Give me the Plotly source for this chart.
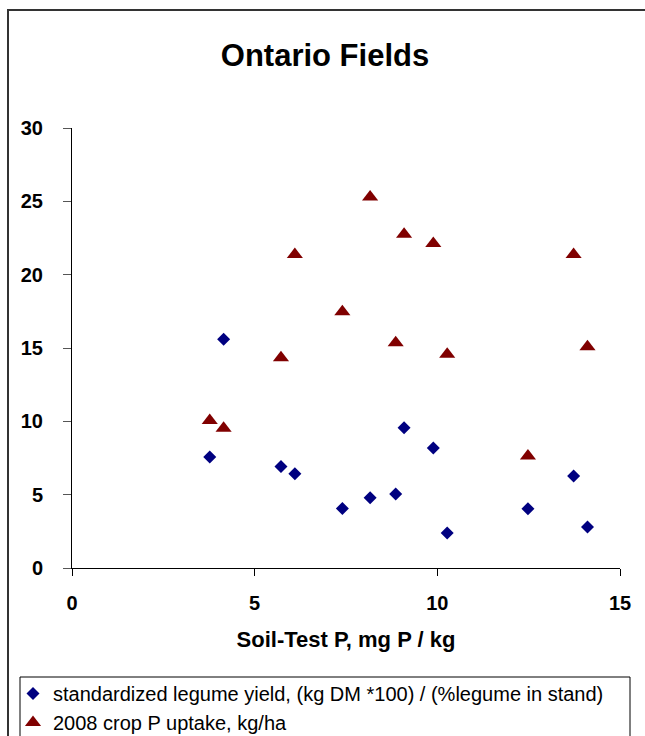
import plotly.graph_objects as go

soil_p = [3.77, 4.15, 5.72, 6.10, 7.40, 8.16, 8.86, 9.09, 9.89, 10.27, 12.48, 13.73, 14.11]
legume_yield = [7.56, 15.6, 6.92, 6.42, 4.06, 4.79, 5.04, 9.57, 8.19, 2.38, 4.04, 6.28, 2.79]
p_uptake = [10.05, 9.53, 14.34, 21.37, 17.47, 25.3, 15.36, 22.76, 22.12, 14.57, 7.64, 21.37, 15.09]

x_ticks = [0, 5, 10, 15]
y_ticks = [0, 5, 10, 15, 20, 25, 30]

W, H = 645, 736
ML, MR, MT, MB = 72, 25, 128, 168
PW = W - ML - MR
PH = H - MT - MB

def px(p):
    return (p - ML) / PW

def py(p):
    return (H - MB - p) / PH

FONT = "Arial, Liberation Sans, sans-serif"

fig = go.Figure()
fig.add_trace(go.Scatter(
    x=soil_p, y=legume_yield, mode="markers",
    name="standardized legume yield, (kg DM *100) / (%legume in stand)",
    marker=dict(symbol="diamond", size=10, color="#000080"),
    legendgroup="a",
))
fig.add_trace(go.Scatter(
    x=soil_p, y=p_uptake, mode="markers",
    name="2008 crop P uptake, kg/ha",
    marker=dict(symbol="triangle-up", size=14, color="#800000"),
    legendgroup="b",
))

# outer chart frame and legend box
fig.add_shape(type="rect", xref="paper", yref="paper",
              x0=px(8), x1=px(700), y0=py(800), y1=py(10),
              line=dict(color="#333333", width=2), layer="below")
fig.add_shape(type="rect", xref="paper", yref="paper",
              x0=px(20), x1=px(630), y0=py(800), y1=py(677),
              line=dict(color="#000000", width=1), layer="below")

fig.update_layout(
    width=W, height=H,
    margin=dict(l=ML, r=MR, t=MT, b=MB, autoexpand=False),
    paper_bgcolor="white", plot_bgcolor="white",
    font=dict(family=FONT, color="black"),
    title=dict(text="Ontario Fields", x=325 / W, xref="container", xanchor="center",
               y=1 - 55 / H, yref="container", yanchor="middle",
               font=dict(family=FONT, size=31, weight="bold", color="black")),
    showlegend=True,
    legend=dict(x=13 / W, y=1 - 674 / H, xref="container", yref="container",
                xanchor="left", yanchor="top",
                bgcolor="rgba(0,0,0,0)", borderwidth=0,
                font=dict(family=FONT, size=20, color="black"),
                itemsizing="trace", tracegroupgap=0, traceorder="grouped"),
    xaxis=dict(range=[0, 15], tickvals=x_ticks, ticktext=[str(v) for v in x_ticks],
               automargin=False,
               showgrid=False, zeroline=False, showline=True, linecolor="black", linewidth=1,
               ticks="outside", ticklen=7, tickcolor="black",
               ticklabelstandoff=10,
               tickfont=dict(family=FONT, size=20, weight="bold"),
               title=dict(text="Soil-Test P, mg P / kg", standoff=18,
                          font=dict(family=FONT, size=22, weight="bold"))),
    yaxis=dict(range=[0, 30], tickvals=y_ticks, ticktext=[str(v) for v in y_ticks],
               automargin=False,
               showgrid=False, zeroline=False, showline=True, linecolor="black", linewidth=1,
               ticks="outside", ticklen=8, tickcolor="#555555",
               ticklabelstandoff=16,
               tickfont=dict(family=FONT, size=20, weight="bold")),
)

fig.write_html("out.html", config={"displayModeBar": False},
               post_script="document.body.style.margin='0';document.body.style.overflow='hidden';")
